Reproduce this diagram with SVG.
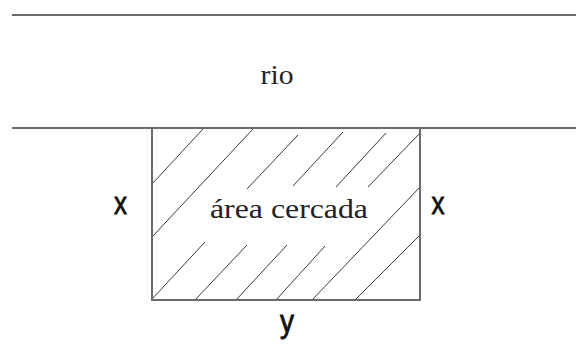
<svg xmlns="http://www.w3.org/2000/svg" width="576" height="344" viewBox="0 0 576 344">
  <style>
    .edge { stroke: #6b6b6b; stroke-width: 2; fill: none; }
    .hatch { stroke: #3a3a3a; stroke-width: 1; fill: none; }
    .serif { font-family: "Liberation Serif", "Times New Roman", serif; fill: #222; }
    .sans { font-family: "Liberation Sans", Arial, sans-serif; fill: #111; stroke: #111; stroke-width: 0.8; }
  </style>
  <rect width="576" height="344" fill="#ffffff"/>
  <g id="river">
    <line class="edge" x1="12" y1="15" x2="576" y2="15"/>
    <line class="edge" x1="12" y1="128" x2="576" y2="128"/>
    <text class="serif" x="277" y="84" font-size="28" text-anchor="middle" textLength="33" lengthAdjust="spacingAndGlyphs">rio</text>
  </g>
  <g id="area">
    <g id="hatching">
      <line class="hatch" x1="203" y1="129" x2="152" y2="184"/>
      <line class="hatch" x1="253" y1="129" x2="152" y2="237"/>
      <line class="hatch" x1="298" y1="135" x2="247" y2="189"/>
      <line class="hatch" x1="343" y1="132" x2="293" y2="186"/>
      <line class="hatch" x1="386" y1="133" x2="336" y2="187"/>
      <line class="hatch" x1="420" y1="133" x2="368" y2="187"/>
      <line class="hatch" x1="205" y1="242" x2="153" y2="298"/>
      <line class="hatch" x1="247" y1="245" x2="195" y2="300"/>
      <line class="hatch" x1="287" y1="245" x2="236" y2="300"/>
      <line class="hatch" x1="325" y1="246" x2="276" y2="300"/>
      <line class="hatch" x1="420" y1="187" x2="312" y2="300"/>
      <line class="hatch" x1="420" y1="235" x2="355" y2="300"/>
    </g>
    <path class="edge" d="M152 128 V300 H420 V128"/>
    <text class="serif" x="210" y="218" font-size="27" textLength="158" lengthAdjust="spacingAndGlyphs">área cercada</text>
  </g>
  <g id="labels">
    <text class="sans" x="114" y="214" font-size="32" textLength="13" lengthAdjust="spacingAndGlyphs">x</text>
    <text class="sans" x="431.5" y="214" font-size="32" textLength="13" lengthAdjust="spacingAndGlyphs">x</text>
    <text class="sans" x="280" y="332" font-size="32" textLength="14" lengthAdjust="spacingAndGlyphs">y</text>
  </g>
</svg>
